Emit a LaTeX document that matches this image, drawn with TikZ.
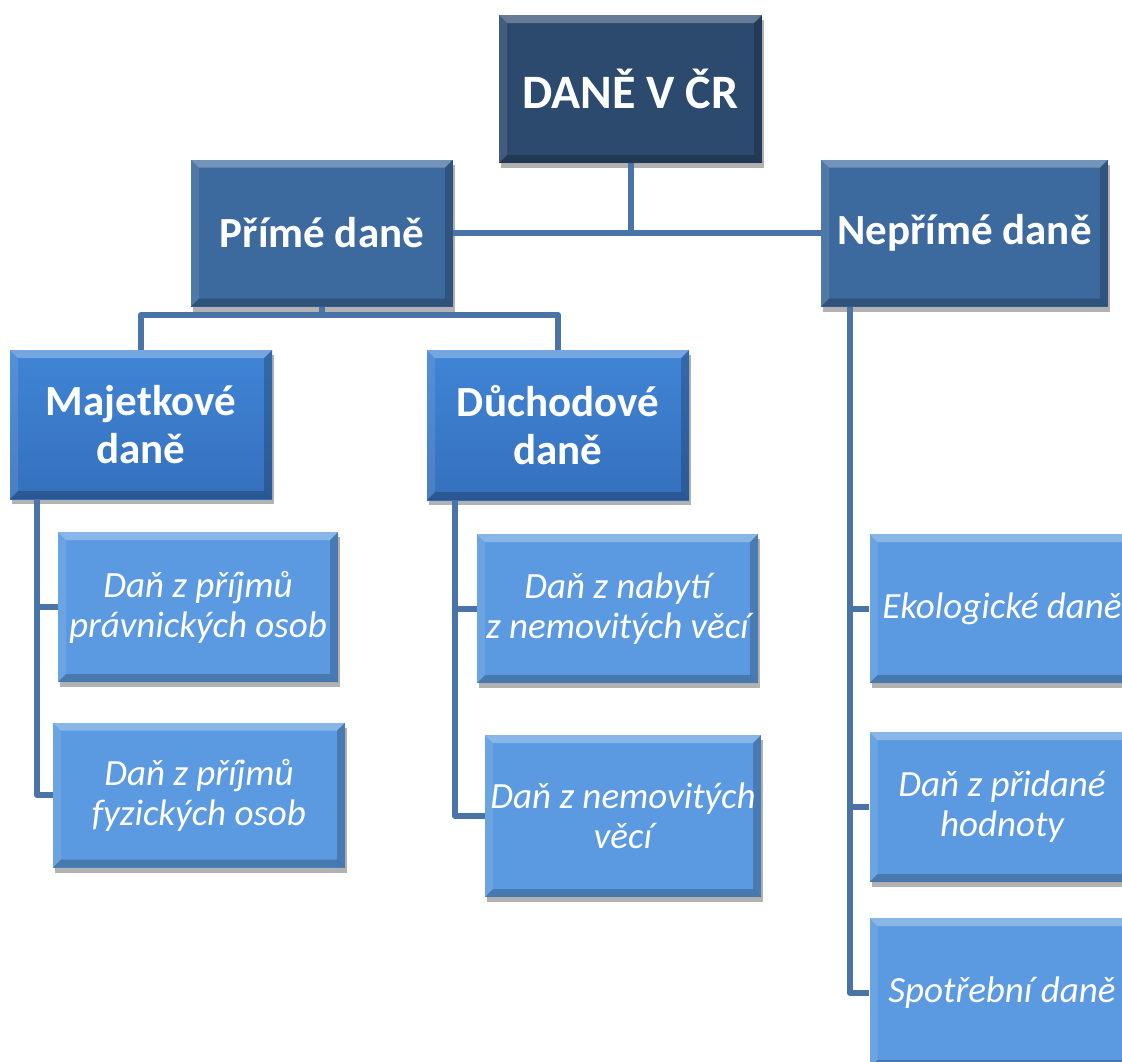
\documentclass[tikz,border=0pt]{standalone}
\usepackage{fontspec}
\setmainfont{Carlito}
\usetikzlibrary{shadows,calc}
\definecolor{navy}{HTML}{2C4A6E}
\definecolor{midblue}{HTML}{3D6A9E}
\definecolor{l3top}{HTML}{4085D6}
\definecolor{l3bot}{HTML}{3570BC}
\definecolor{leaf}{HTML}{5B9AE0}
\definecolor{linec}{HTML}{4A74A8}
\tikzset{
  bevel/.style={path picture={
    \fill[white,opacity=.28] (path picture bounding box.north west) -- (path picture bounding box.north east)
      -- ([xshift=-8pt,yshift=-8pt]path picture bounding box.north east) -- ([xshift=8pt,yshift=-8pt]path picture bounding box.north west) -- cycle;
    \fill[white,opacity=.10] (path picture bounding box.north west) -- ([xshift=8pt,yshift=-8pt]path picture bounding box.north west)
      -- ([xshift=8pt,yshift=8pt]path picture bounding box.south west) -- (path picture bounding box.south west) -- cycle;
    \fill[black,opacity=.20] (path picture bounding box.north east) -- (path picture bounding box.south east)
      -- ([xshift=-8pt,yshift=8pt]path picture bounding box.south east) -- ([xshift=-8pt,yshift=-8pt]path picture bounding box.north east) -- cycle;
    \fill[black,opacity=.22] (path picture bounding box.south west) -- (path picture bounding box.south east)
      -- ([xshift=-8pt,yshift=8pt]path picture bounding box.south east) -- ([xshift=8pt,yshift=8pt]path picture bounding box.south west) -- cycle;
  }},
  basebox/.style={rectangle, inner sep=0pt, align=center, text=white, bevel,
    drop shadow={shadow xshift=2pt, shadow yshift=-5pt, opacity=.3, fill=black}},
  topbox/.style={basebox, fill=navy, font=\bfseries\fontsize{48}{57}\selectfont},
  secbox/.style={basebox, fill=midblue, font=\bfseries\fontsize{43}{48}\selectfont},
  thirdbox/.style={basebox, top color=l3top, bottom color=l3bot, font=\bfseries\fontsize{43}{48}\selectfont},
  leafbox/.style={basebox, fill=leaf, font=\itshape\fontsize{37}{40}\selectfont},
  conn/.style={draw=linec, line width=6pt, line join=round},
}
\begin{document}
\begin{tikzpicture}[x=1pt,y=-1pt]
\useasboundingbox (0,0) rectangle (1122,1061);
\node[topbox, minimum width=263pt, minimum height=148pt] (top) at (630.5,89) {DANĚ V ČR};
\node[secbox, minimum width=262pt, minimum height=147pt] (prime) at (322,233) {Přímé daně};
\node[secbox, minimum width=287pt, minimum height=147pt] (neprime) at (964.5,233) {Nepřímé daně};
\node[thirdbox, minimum width=262pt, minimum height=149pt] (maj) at (141,424.5) {Majetkové\\daně};
\node[thirdbox, minimum width=262pt, minimum height=150pt] (duch) at (558,425) {Důchodové\\daně};
\node[leafbox, minimum width=280pt, minimum height=150pt] (pp) at (198,607) {Daň z příjmů\\právnických osob};
\node[leafbox, minimum width=292pt, minimum height=145pt] (fo) at (199,795) {Daň z příjmů\\fyzických osob};
\node[leafbox, minimum width=281pt, minimum height=149pt] (nab) at (617.5,608.5) {Daň z nabytí\\z nemovitých věcí};
\node[leafbox, minimum width=276pt, minimum height=162pt] (nem) at (623,816) {Daň z nemovitých\\věcí};
\node[leafbox, minimum width=265pt, minimum height=149pt] (eko) at (1002,608.5) {Ekologické daně};
\node[leafbox, minimum width=265pt, minimum height=150pt] (dph) at (1002,807) {Daň z přidané\\hodnoty};
\node[leafbox, minimum width=265pt, minimum height=150pt] (spot) at (1002,993) {Spotřební daně};
\draw[conn] (top.south) -- (top.south |- prime.east);
\draw[conn] (prime.east) -- (neprime.west);
\draw[conn] (prime.south) -- ++(0,8) -| (maj.north);
\draw[conn] (prime.south) -- ++(0,8) -| (duch.north);
\coordinate (mj) at ([xshift=27pt]maj.south west);
\draw[conn] (mj) |- (pp.west);
\draw[conn] (mj) |- (fo.west);
\coordinate (dc) at ([xshift=28pt]duch.south west);
\draw[conn] (dc) |- (nab.west);
\draw[conn] (dc) |- (nem.west);
\coordinate (np) at ([xshift=29pt]neprime.south west);
\draw[conn] (np) |- (eko.west);
\draw[conn] (np) |- (dph.west);
\draw[conn] (np) |- (spot.west);
\end{tikzpicture}
\end{document}
